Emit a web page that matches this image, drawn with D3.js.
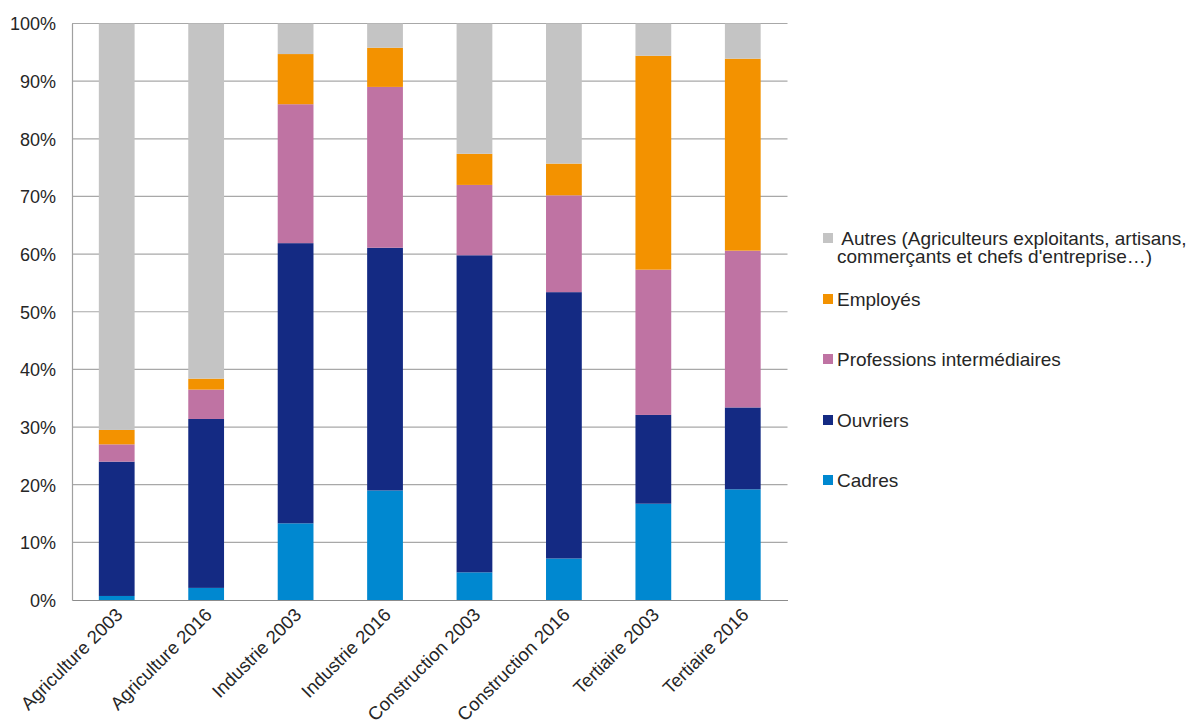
<!DOCTYPE html>
<html>
<head>
<meta charset="utf-8">
<script src="https://cdn.jsdelivr.net/npm/d3@7"></script>
<style>
  body { margin: 0; background: #fff; }
  text { font-family: "Liberation Sans", Arial, sans-serif; fill: #262626; }
</style>
</head>
<body>
<div id="chart"></div>
<script>
// categories and series (percent of each sector)
var categories = ['Agriculture 2003', 'Agriculture 2016', 'Industrie 2003', 'Industrie 2016',
    'Construction 2003', 'Construction 2016', 'Tertiaire 2003', 'Tertiaire 2016'];
var cadres = [0.7, 2.1, 13.3, 19.0, 4.8, 7.2, 16.7, 19.2];
var ouvriers = [23.3, 29.3, 48.6, 42.1, 55.0, 46.2, 15.4, 14.2];
var professions = [3.0, 5.1, 24.1, 27.9, 12.2, 16.8, 25.2, 27.2];
var employes = [2.5, 1.9, 8.7, 6.8, 5.4, 5.5, 37.1, 33.3];
var autres = [70.5, 61.6, 5.3, 4.2, 22.6, 24.3, 5.6, 6.1];
var yTicks = [0, 10, 20, 30, 40, 50, 60, 70, 80, 90, 100];

var seriesNames = ['Cadres', 'Ouvriers', 'Professions intermédiaires', 'Employés', 'Autres'];
var colors = ['#0088d0', '#142a83', '#bf73a3', '#f39200', '#c4c4c4'];

// build the table for d3.stack
var table = categories.map(function (c, i) {
    return { cat: c, Cadres: cadres[i], Ouvriers: ouvriers[i],
        'Professions intermédiaires': professions[i], 'Employés': employes[i], Autres: autres[i] };
});

var svg = d3.select('#chart').append('svg')
    .attr('width', 1198)
    .attr('height', 722);

var x = d3.scaleBand().domain(categories).range([72, 787.5]).paddingInner(0.6).paddingOuter(0.3);
var y = d3.scaleLinear().domain([0, 100]).range([600, 23.5]);

// gridlines
svg.append('g').selectAll('line')
    .data(yTicks.filter(function (d) { return d > 0; }))
    .enter().append('line')
    .attr('x1', 72).attr('x2', 787.5)
    .attr('y1', function (d) { return y(d); })
    .attr('y2', function (d) { return y(d); })
    .style('stroke', '#a8a8a8')
    .style('stroke-width', 1.2);

var stack = d3.stack().keys(seriesNames)(table);

svg.append('g').selectAll('g')
    .data(stack)
    .enter().append('g')
    .style('fill', function (d, i) { return colors[i]; })
    .selectAll('rect')
    .data(function (d) { return d; })
    .enter().append('rect')
    .attr('x', function (d) { return x(d.data.cat); })
    .attr('width', x.bandwidth())
    .attr('y', function (d) { return y(d[1]); })
    .attr('height', function (d) { return y(d[0]) - y(d[1]); });

// axes
var yAxis = svg.append('g')
    .attr('transform', 'translate(72,0)')
    .call(d3.axisLeft(y).tickValues(yTicks).tickSize(0).tickPadding(16)
        .tickFormat(function (d) { return d + '%'; }));
yAxis.select('.domain').style('stroke', '#a0a0a0').style('stroke-width', 1.2);
yAxis.selectAll('text').style('font-size', '18px').attr('dy', '0.35em');

var xAxis = svg.append('g')
    .attr('transform', 'translate(0,600)')
    .call(d3.axisBottom(x).tickSize(0));
xAxis.select('.domain').style('stroke', '#8c8c8c').style('stroke-width', 1.2);
xAxis.selectAll('text')
    .style('font-size', '18.5px')
    .style('text-anchor', 'end')
    .attr('dy', null)
    .attr('y', 0)
    .attr('transform', 'translate(7,16) rotate(-45)');

// legend
var legendItems = [
    { name: 'Autres', color: colors[4], lines: [' Autres (Agriculteurs exploitants, artisans,', 'commerçants et chefs d\'entreprise…)'], y: 238 },
    { name: 'Employés', color: colors[3], lines: ['Employés'], y: 299 },
    { name: 'Professions intermédiaires', color: colors[2], lines: ['Professions intermédiaires'], y: 359 },
    { name: 'Ouvriers', color: colors[1], lines: ['Ouvriers'], y: 420 },
    { name: 'Cadres', color: colors[0], lines: ['Cadres'], y: 480 }
];

var legend = svg.append('g').selectAll('g')
    .data(legendItems)
    .enter().append('g');

legend.append('rect')
    .attr('x', 823).attr('y', function (d) { return d.y - 5; })
    .attr('width', 10).attr('height', 10)
    .style('fill', function (d) { return d.color; });

legend.each(function (d) {
    var t = d3.select(this).append('text')
        .attr('y', d.y)
        .attr('dy', '0.35em')
        .style('font-size', '19px')
        .attr('xml:space', 'preserve');
    d.lines.forEach(function (l, i) {
        t.append('tspan')
            .attr('x', 837)
            .attr('y', d.y + i * 25)
            .text(l);
    });
});
</script>
</body>
</html>
